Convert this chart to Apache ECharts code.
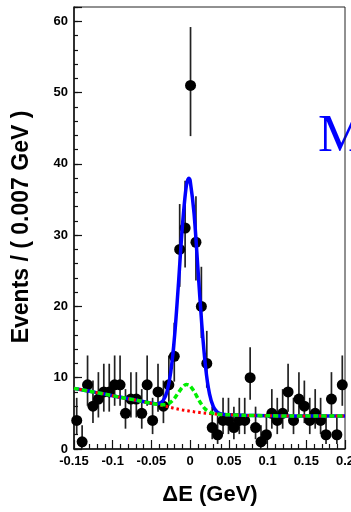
<!DOCTYPE html>
<html><head><meta charset="utf-8">
<script src="https://cdn.jsdelivr.net/npm/echarts@6/dist/echarts.min.js"></script>
<style>html,body{margin:0;padding:0;background:#fff}#c{width:351px;height:512px}</style>
</head><body><div id="c"></div>
<script>
// Histogram binning (GeV)
const binStart = -0.15;
const binWidth = 0.007;
// Events per bin
const counts = [4,1,9,6,7,8,8,9,9,5,7,7,5,9,4,8,6,9,13,28,31,51,29,20,12,3,2,4,4,3,4,4,10,3,1,2,5,4,5,8,4,7,6,4,5,4,2,7,2,9];
// Error bar ends (Poisson intervals) per bin
const errLow  = [2.09,0.17,6.06,3.63,4.42,5.24,5.24,6.06,6.06,2.85,4.42,4.42,2.85,6.06,2.09,5.24,3.63,6.06,9.45,22.74,25.46,43.89,23.65,15.57,8.59,1.37,0.71,2.09,2.09,1.37,2.09,2.09,6.90,1.37,0.17,0.71,2.85,2.09,2.85,5.24,2.09,4.42,3.63,2.09,2.85,2.09,0.71,4.42,0.71,6.06];
const errHigh = [7.18,3.32,13.12,9.60,10.78,11.96,11.96,13.12,13.12,8.40,10.78,10.78,8.40,13.12,7.18,11.96,9.60,13.12,17.71,34.36,37.64,59.19,35.45,25.56,16.57,5.94,4.66,7.18,7.18,5.94,7.18,7.18,14.28,5.94,3.32,4.66,8.40,7.18,8.40,11.96,7.18,10.78,9.60,7.18,8.40,7.18,4.66,10.78,4.66,13.12];
// Fit curves sampled along ΔE
const curveX   = [-0.15,-0.13,-0.11,-0.09,-0.07,-0.05,-0.045,-0.04,-0.035,-0.03,-0.025,-0.02,-0.015,-0.01,-0.005,-0.0015,0,0.005,0.01,0.015,0.02,0.025,0.03,0.035,0.04,0.045,0.05,0.07,0.1,0.13,0.16,0.2];
const bkgCurve = [8.5,8.1,7.7,7.25,6.85,6.4,6.3,6.2,6.07,5.95,5.82,5.7,5.58,5.48,5.39,5.33,5.3,5.22,5.15,5.08,5.02,4.97,4.92,4.88,4.85,4.82,4.8,4.72,4.66,4.63,4.62,4.62];
const peakBkgCurve = [8.5,8.1,7.7,7.25,6.85,6.4,6.31,6.24,6.19,6.27,6.56,7.14,7.92,8.67,9.06,8.98,8.85,8.10,7.11,6.21,5.56,5.19,5.0,4.9,4.85,4.82,4.8,4.72,4.66,4.63,4.62,4.62];
const totalCurve = [8.5,8.1,7.7,7.25,6.85,6.41,6.35,6.41,6.78,8.0,10.82,15.98,23.32,31.27,36.86,37.98,37.65,33.1,25.41,17.51,11.41,7.72,5.92,5.18,4.92,4.84,4.8,4.72,4.66,4.63,4.62,4.62];
// Axes
const xMin = -0.15, xMax = 0.2, xStep = 0.05;
const yMin = 0, yMax = 62, yStep = 10, yMinorStep = 2;
const xTitle = 'ΔE (GeV)';
const yTitle = 'Events / ( 0.007 GeV )';
const plotLabel = 'M';

const centers = counts.map((c, i) => +(binStart + binWidth * (i + 0.5)).toFixed(4));
const points = counts.map((c, i) => [centers[i], c]);
const bars = counts.map((c, i) => [centers[i], errLow[i], errHigh[i]]);
const pair = arr => curveX.map((x, i) => [x, arr[i]]);

const FONT = '"Liberation Sans", Arial, Helvetica, sans-serif';
const chart = echarts.init(document.getElementById('c'), null, {renderer: 'canvas'});
chart.setOption({
  animation: false,
  backgroundColor: '#fff',
  grid: {left: 74, right: 6, top: 7, bottom: 63, show: true, borderColor: '#222', borderWidth: 1, containLabel: false, outerBoundsMode: 'none'},
  xAxis: [{
    type: 'value', min: xMin, max: xMax, interval: xStep,
    axisLine: {show: true, onZero: false, lineStyle: {color: '#111', width: 1.5}},
    axisTick: {show: true, inside: true, length: 9, lineStyle: {color: '#111', width: 1.2}},
    minorTick: {show: true, splitNumber: 5, length: 5, lineStyle: {color: '#111', width: 1.2}},
    axisLabel: {color: '#000', fontWeight: 'bold', fontSize: 13, fontFamily: FONT, margin: 6, showMinLabel: true, showMaxLabel: true},
    splitLine: {show: false}
  }],
  yAxis: [{
    type: 'value', min: yMin, max: yMax, interval: yStep, position: 'left',
    axisLine: {show: true, onZero: false, lineStyle: {color: '#111', width: 1.5}},
    axisTick: {show: true, inside: true, length: 8, lineStyle: {color: '#111', width: 1.2}},
    axisLabel: {color: '#000', fontWeight: 'bold', fontSize: 13, fontFamily: FONT, margin: 6,
      formatter: v => (v % 10 === 0 ? String(v) : '')},
    splitLine: {show: false}
  }, {
    type: 'value', min: yMin, max: yMax, interval: yMinorStep, position: 'left', offset: 0,
    axisLine: {show: false, onZero: false},
    axisTick: {show: true, inside: true, length: 4, lineStyle: {color: '#111', width: 1.2}},
    axisLabel: {show: false},
    splitLine: {show: false}
  }],
  graphic: [
    {type: 'text', x: 21.5, y: 227, rotation: Math.PI / 2, z: 10,
     style: {text: yTitle, font: 'bold 23px ' + FONT, fill: '#000', align: 'center', verticalAlign: 'middle'}},
    {type: 'text', x: 210, y: 494.5, z: 10,
     style: {text: xTitle, font: 'bold 22px ' + FONT, fill: '#000', align: 'center', verticalAlign: 'middle'}},
    {type: 'text', x: 318, y: 137.5, z: -1,
     style: {text: plotLabel, font: '53px "Liberation Serif", "Times New Roman", serif', fill: '#0000ff', align: 'left', verticalAlign: 'middle'}}
  ],
  series: [
    {type: 'custom', z: 1, xAxisIndex: 0, yAxisIndex: 0,
     renderItem: (params, api) => {
       const p1 = api.coord([api.value(0), api.value(1)]);
       const p2 = api.coord([api.value(0), api.value(2)]);
       return {type: 'line', shape: {x1: p1[0], y1: p1[1], x2: p2[0], y2: p2[1]}, style: {stroke: '#222', lineWidth: 1.7}};
     },
     encode: {x: 0, y: [1, 2]}, data: bars},
    {type: 'scatter', z: 2, symbol: 'circle', symbolSize: 11, itemStyle: {color: '#000', opacity: 1}, data: points},
    {type: 'line', z: 3, data: pair(totalCurve), smooth: 0.3, showSymbol: false, symbol: 'none',
     lineStyle: {color: '#0000ff', width: 3.5}},
    {type: 'line', z: 4, data: pair(bkgCurve), smooth: 0.3, showSymbol: false, symbol: 'none',
     lineStyle: {color: '#ff0000', width: 3, type: [2.5, 3]}},
    {type: 'line', z: 5, data: pair(peakBkgCurve), smooth: 0.3, showSymbol: false, symbol: 'none',
     lineStyle: {color: '#00ee00', width: 3.5, type: [5, 3]}}
  ]
});
</script></body></html>
